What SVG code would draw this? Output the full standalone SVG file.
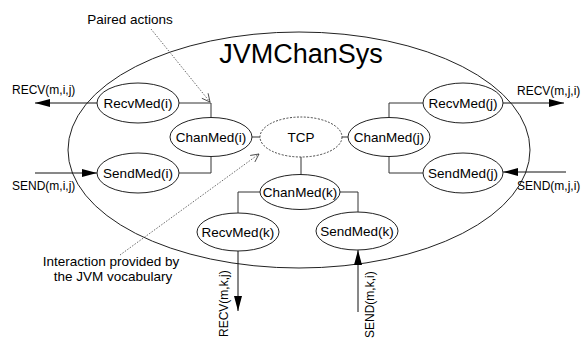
<svg xmlns="http://www.w3.org/2000/svg" width="582" height="339" viewBox="0 0 582 339">
<defs>
<style>
text{font-family:"Liberation Sans",Arial,sans-serif;fill:#000}
.lbl{font-size:13.5px;text-anchor:middle}
.ext{font-size:12px}
.node{fill:#fff;stroke:#222;stroke-width:1}
.tcp{fill:#fff;stroke:#444;stroke-width:1;stroke-dasharray:2,1.5}
.c{fill:none;stroke:#333;stroke-width:1}
.a{fill:none;stroke:#111;stroke-width:1}
.d{fill:none;stroke:#444;stroke-width:0.8;stroke-dasharray:1.5,1.5}
</style>
<marker id="ah" markerWidth="15" markerHeight="8" refX="15" refY="4" orient="auto" markerUnits="userSpaceOnUse">
<path d="M0,0 L15,4 L0,8 Z" fill="#000"/>
</marker>
<marker id="oh" markerWidth="10" markerHeight="10" refX="9" refY="5" orient="auto" markerUnits="userSpaceOnUse">
<path d="M1,1 L9,5 L1,9" fill="none" stroke="#333" stroke-width="0.8"/>
</marker>
</defs>
<rect width="582" height="339" fill="#fff"/>
<g id="system">
<ellipse cx="299" cy="150" rx="231" ry="118" fill="none" stroke="#222" stroke-width="1"/>
<text x="301" y="63" font-size="27" text-anchor="middle">JVMChanSys</text>
</g>
<g id="connectors">
<path class="c" d="M179,103 H211 V118"/>
<path class="c" d="M179,173 H211 V157"/>
<path class="c" d="M252,137 H260"/>
<path class="c" d="M342,137 H348"/>
<path class="c" d="M389,118 V103 H423"/>
<path class="c" d="M389,157 V173 H423"/>
<path class="c" d="M301,157 V175"/>
<path class="c" d="M260,192 H238 V213"/>
<path class="c" d="M340,192 H358 V212"/>
<path class="a" d="M97,103 H35" marker-end="url(#ah)"/>
<path class="a" d="M35,173 H97" marker-end="url(#ah)"/>
<path class="a" d="M503,103 H564" marker-end="url(#ah)"/>
<path class="a" d="M566,172 H503" marker-end="url(#ah)"/>
<path class="a" d="M238,251 V311" marker-end="url(#ah)"/>
<path class="a" d="M358,312 V250" marker-end="url(#ah)"/>
<path class="d" d="M151,29 L210,102" marker-end="url(#oh)"/>
<path class="d" d="M120,255 L259,154" marker-end="url(#oh)"/>
</g>
<g id="RecvMed_i"><ellipse class="node" cx="138" cy="103" rx="41" ry="20"/><text class="lbl" x="138" y="108">RecvMed(i)</text></g>
<g id="SendMed_i"><ellipse class="node" cx="138" cy="173" rx="41" ry="20"/><text class="lbl" x="138" y="178">SendMed(i)</text></g>
<g id="ChanMed_i"><ellipse class="node" cx="211" cy="137" rx="41" ry="19.5"/><text class="lbl" x="211" y="142">ChanMed(i)</text></g>
<g id="TCP"><ellipse class="tcp" cx="301" cy="137" rx="41" ry="20"/><text class="lbl" x="301" y="142">TCP</text></g>
<g id="ChanMed_j"><ellipse class="node" cx="389" cy="137" rx="41" ry="19.5"/><text class="lbl" x="389" y="142">ChanMed(j)</text></g>
<g id="RecvMed_j"><ellipse class="node" cx="463" cy="103" rx="40" ry="20"/><text class="lbl" x="463" y="108">RecvMed(j)</text></g>
<g id="SendMed_j"><ellipse class="node" cx="463" cy="173" rx="40" ry="20"/><text class="lbl" x="463" y="178">SendMed(j)</text></g>
<g id="ChanMed_k"><ellipse class="node" cx="300" cy="192" rx="40" ry="17.5"/><text class="lbl" x="300" y="197">ChanMed(k)</text></g>
<g id="RecvMed_k"><ellipse class="node" cx="238" cy="232" rx="41" ry="19"/><text class="lbl" x="238" y="237">RecvMed(k)</text></g>
<g id="SendMed_k"><ellipse class="node" cx="357" cy="231" rx="41" ry="19"/><text class="lbl" x="357" y="236">SendMed(k)</text></g>
<g id="labels">
<text class="ext" x="12" y="94">RECV(m,i,j)</text>
<text class="ext" x="12" y="190">SEND(m,i,j)</text>
<text class="ext" x="517" y="95">RECV(m,j,i)</text>
<text class="ext" x="517" y="190">SEND(m,j,i)</text>
<text class="ext" transform="translate(228,337) rotate(-90)">RECV(m,k,j)</text>
<text class="ext" transform="translate(374,338) rotate(-90)">SEND(m,k,i)</text>
<text x="130" y="24" font-size="13.5" text-anchor="middle">Paired actions</text>
<text x="111" y="266" font-size="13.5" text-anchor="middle">Interaction provided by</text>
<text x="113" y="281" font-size="13.5" text-anchor="middle">the JVM vocabulary</text>
</g>
</svg>
